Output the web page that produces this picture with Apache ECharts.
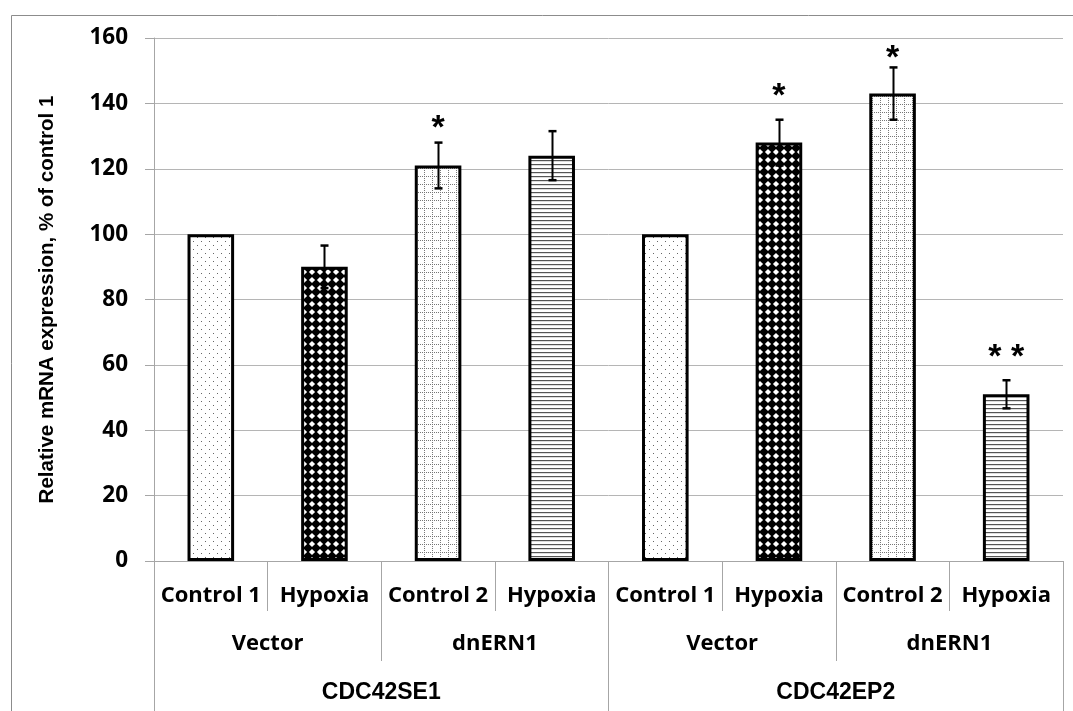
<!DOCTYPE html>
<html>
<head>
<meta charset="utf-8">
<script src="https://cdn.jsdelivr.net/npm/echarts@6/dist/echarts.min.js"></script>
<style>
html,body{margin:0;padding:0;background:#fff;}
#chart{width:1073px;height:711px;}
</style>
</head>
<body>
<div id="chart"></div>
<script>
// ---- data ----
const conditions = ['Control 1', 'Hypoxia', 'Control 2', 'Hypoxia', 'Control 1', 'Hypoxia', 'Control 2', 'Hypoxia'];
const cellLines = ['Vector', 'dnERN1', 'Vector', 'dnERN1'];
const genes = ['CDC42SE1', 'CDC42EP2'];
const values = [100, 90, 121, 124, 100, 128, 143, 51];
const errors = [0, 6.5, 7, 7.5, 0, 7, 8, 4.3];
const stars = ['', '', '*', '', '', '*', '*', '* *'];
const starLevels = [0, 0, 134, 0, 0, 144, 155.5, 64];
const patternKeys = ['dots', 'diamonds', 'grid', 'hlines', 'dots', 'diamonds', 'grid', 'hlines'];
const yTicks = { min: 0, max: 160, interval: 20 };

// ---- patterns ----
function makePattern(kind) {
  const c = document.createElement('canvas');
  const ctx = c.getContext('2d');
  if (kind === 'dots') {
    c.width = 8; c.height = 8;
    ctx.fillStyle = '#fff'; ctx.fillRect(0, 0, 8, 8);
    ctx.fillStyle = '#666';
    ctx.fillRect(1, 1, 1, 1); ctx.fillRect(5, 5, 1, 1);
  } else if (kind === 'diamonds') {
    c.width = 8; c.height = 8;
    ctx.fillStyle = '#fff'; ctx.fillRect(0, 0, 8, 8);
    ctx.fillStyle = '#000';
    ctx.beginPath();
    ctx.moveTo(4, -0.9); ctx.lineTo(8.9, 4); ctx.lineTo(4, 8.9); ctx.lineTo(-0.9, 4);
    ctx.closePath(); ctx.fill();
  } else if (kind === 'grid') {
    c.width = 8; c.height = 8;
    ctx.fillStyle = '#fff'; ctx.fillRect(0, 0, 8, 8);
    ctx.fillStyle = '#777';
    for (let i = 0; i < 8; i += 2) { ctx.fillRect(i, 0, 1, 1); ctx.fillRect(0, i, 1, 1); }
  } else if (kind === 'hlines') {
    c.width = 4; c.height = 4;
    ctx.fillStyle = '#fff'; ctx.fillRect(0, 0, 4, 4);
    ctx.fillStyle = '#555';
    ctx.fillRect(0, 0, 4, 1.2);
  }
  return { image: c, repeat: 'repeat' };
}
const patterns = {};
['dots', 'diamonds', 'grid', 'hlines'].forEach(k => patterns[k] = makePattern(k));

const barData = values.map((v, i) => ({
  value: v,
  itemStyle: { color: patterns[patternKeys[i]] }
}));
const errData = values.map((v, i) => [i, v - errors[i], v + errors[i], starLevels[i]]);

const gray = '#a6a6a6';
const tickFont = { fontFamily: 'Open Sans', fontWeight: 'bold', fontSize: 22, color: '#000' };

const chart = echarts.init(document.getElementById('chart'), null, { renderer: 'canvas' });
chart.setOption({
  animation: false,
  backgroundColor: '#fff',
  graphic: [{
    type: 'rect', silent: true, z: -1,
    shape: { x: 11.5, y: 15.5, width: 1200, height: 900 },
    style: { fill: 'none', stroke: '#8c8c8c', lineWidth: 1 }
  }],
  grid: { left: 154, right: 10, top: 38, bottom: 150, containLabel: false },
  xAxis: [
    {
      type: 'category', data: conditions, position: 'bottom',
      axisLine: { lineStyle: { color: gray, width: 1 } },
      axisTick: { show: true, interval: 0, length: 50, lineStyle: { color: gray } },
      axisLabel: Object.assign({ interval: 0, margin: 24 }, tickFont)
    },
    {
      type: 'category', data: cellLines, position: 'bottom',
      axisLine: { show: false },
      axisTick: { show: true, interval: 0, length: 100, lineStyle: { color: gray } },
      axisLabel: Object.assign({ interval: 0, margin: 72 }, tickFont)
    },
    {
      type: 'category', data: genes, position: 'bottom',
      axisLine: { show: false },
      axisTick: { show: true, interval: 0, length: 150, lineStyle: { color: gray } },
      axisLabel: { interval: 0, margin: 120, fontFamily: 'Liberation Sans', fontWeight: 'bold', fontSize: 23, color: '#000' }
    }
  ],
  yAxis: {
    type: 'value', min: yTicks.min, max: yTicks.max, interval: yTicks.interval,
    name: 'Relative mRNA expression, % of control 1',
    nameLocation: 'middle', nameGap: 96, nameRotate: 90,
    nameTextStyle: { fontFamily: 'Liberation Sans', fontWeight: 'bold', fontSize: 20.5, color: '#000' },
    axisLine: { show: true, lineStyle: { color: gray } },
    axisTick: { show: true, length: 9, lineStyle: { color: gray } },
    splitLine: { lineStyle: { color: '#b5b5b5', width: 1 } },
    axisLabel: Object.assign({ margin: 26 }, tickFont, { fontSize: 22.5 })
  },
  series: [
    {
      type: 'bar', xAxisIndex: 0, data: barData, barCategoryGap: '59%',
      itemStyle: { borderColor: '#000', borderWidth: 3 }
    },
    {
      type: 'custom', xAxisIndex: 0, data: errData, z: 5,
      renderItem: function (params, api) {
        const i = api.value(0);
        const lo = api.coord([i, api.value(1)]);
        const hi = api.coord([i, api.value(2)]);
        const children = [];
        const idx = params.dataIndex;
        if (errors[idx] > 0) {
          const x = Math.round(hi[0]) + 0.5;
          const half = 4;
          children.push({ type: 'line', shape: { x1: x, y1: lo[1], x2: x, y2: hi[1] }, style: { stroke: '#000', lineWidth: 2 } });
          children.push({ type: 'line', shape: { x1: x - half, y1: hi[1], x2: x + half, y2: hi[1] }, style: { stroke: '#000', lineWidth: 2.5 } });
          children.push({ type: 'line', shape: { x1: x - half, y1: lo[1], x2: x + half, y2: lo[1] }, style: { stroke: '#000', lineWidth: 2.5 } });
        }
        if (stars[idx]) {
          const sp = api.coord([i, api.value(3)]);
          children.push({
            type: 'text',
            style: {
              x: sp[0], y: sp[1] + 6, text: stars[idx], align: 'center', verticalAlign: 'middle',
              font: 'bold 34px "Liberation Sans"', fill: '#000'
            }
          });
        }
        return { type: 'group', children: children };
      }
    }
  ]
});
</script>
</body>
</html>
